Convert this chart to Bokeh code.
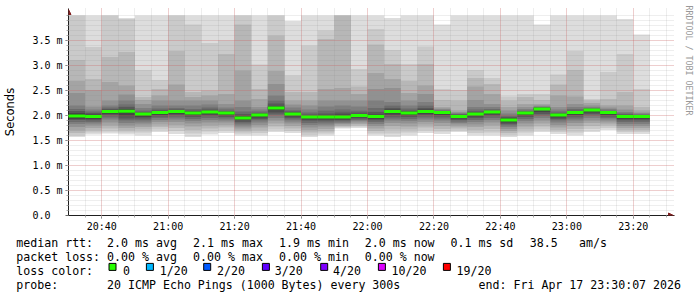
import pandas as pd
from bokeh.plotting import figure
from bokeh.layouts import column
from bokeh.models import (Range1d, FixedTicker, DatetimeTickFormatter, Label, Arrow, NormalHead,
                          LinearAxis)
from bokeh.embed import file_html
from bokeh.resources import INLINE

# ---------------------------------------------------------------- data
slot_start = pd.date_range("2026-04-17 20:30", periods=35, freq="5min")
step = pd.Timedelta(minutes=5)

median_rtt = [1.99, 1.98, 2.08, 2.085, 2.03, 2.06, 2.08, 2.05, 2.07, 2.05, 1.95, 2.01,
              2.15, 2.03, 1.97, 1.97, 1.97, 2.00, 1.98, 2.08, 2.05, 2.08, 2.06, 1.98,
              2.03, 2.07, 1.91, 2.05, 2.13, 2.01, 2.06, 2.11, 2.06, 1.98, 1.98]

# sorted ping times (ms), rank 1 (fastest) .. rank 20 (slowest), one value per 5-min slot
p01 = [1.57, 1.62, 1.64, 1.62, 1.60, 1.67, 1.63, 1.57, 1.62, 1.65, 1.60, 1.60, 1.67, 1.65, 1.57, 1.60, 1.74, 1.75,
       1.60, 1.57, 1.60, 1.65, 1.63, 1.67, 1.60, 1.60, 1.57, 1.60, 1.67, 1.63, 1.60, 1.67, 1.71, 1.63, 1.63]
p02 = [1.60, 1.66, 1.68, 1.66, 1.66, 1.72, 1.69, 1.64, 1.68, 1.70, 1.64, 1.65, 1.72, 1.69, 1.61, 1.64, 1.76, 1.78,
       1.64, 1.64, 1.66, 1.70, 1.68, 1.70, 1.65, 1.66, 1.61, 1.66, 1.72, 1.67, 1.66, 1.73, 1.75, 1.67, 1.67]
p03 = [1.65, 1.70, 1.74, 1.70, 1.72, 1.77, 1.75, 1.71, 1.74, 1.76, 1.68, 1.70, 1.78, 1.74, 1.66, 1.68, 1.78, 1.80,
       1.69, 1.72, 1.72, 1.76, 1.73, 1.74, 1.71, 1.73, 1.65, 1.72, 1.78, 1.71, 1.73, 1.79, 1.80, 1.71, 1.71]
p04 = [1.70, 1.75, 1.80, 1.75, 1.77, 1.82, 1.81, 1.78, 1.80, 1.81, 1.72, 1.76, 1.84, 1.79, 1.71, 1.73, 1.80, 1.83,
       1.74, 1.79, 1.78, 1.82, 1.79, 1.78, 1.77, 1.80, 1.69, 1.78, 1.84, 1.76, 1.79, 1.85, 1.84, 1.75, 1.75]
p05 = [1.77, 1.80, 1.86, 1.80, 1.82, 1.87, 1.87, 1.84, 1.86, 1.86, 1.76, 1.81, 1.90, 1.84, 1.76, 1.78, 1.83, 1.86,
       1.79, 1.85, 1.84, 1.87, 1.85, 1.82, 1.82, 1.86, 1.73, 1.84, 1.90, 1.81, 1.85, 1.90, 1.88, 1.79, 1.79]
p06 = [1.83, 1.84, 1.92, 1.85, 1.86, 1.91, 1.92, 1.89, 1.91, 1.90, 1.80, 1.86, 1.95, 1.88, 1.81, 1.82, 1.85, 1.89,
       1.83, 1.90, 1.89, 1.92, 1.90, 1.85, 1.87, 1.91, 1.77, 1.89, 1.95, 1.86, 1.90, 1.95, 1.92, 1.83, 1.83]
p07 = [1.87, 1.87, 1.96, 1.90, 1.90, 1.95, 1.96, 1.93, 1.95, 1.94, 1.84, 1.90, 2.00, 1.92, 1.85, 1.86, 1.88, 1.91,
       1.87, 1.94, 1.93, 1.96, 1.94, 1.88, 1.91, 1.95, 1.80, 1.93, 1.99, 1.90, 1.94, 1.99, 1.95, 1.87, 1.87]
p08 = [1.91, 1.90, 2.00, 1.94, 1.94, 1.98, 2.00, 1.97, 1.99, 1.97, 1.87, 1.93, 2.04, 1.95, 1.89, 1.89, 1.90, 1.94,
       1.90, 1.98, 1.97, 2.00, 1.98, 1.91, 1.95, 1.99, 1.83, 1.97, 2.03, 1.93, 1.98, 2.03, 1.98, 1.90, 1.90]
p09 = [1.93, 1.93, 2.03, 1.99, 1.97, 2.01, 2.03, 2.00, 2.02, 2.00, 1.90, 1.96, 2.08, 1.98, 1.92, 1.92, 1.92, 1.96,
       1.93, 2.02, 2.00, 2.03, 2.01, 1.94, 1.98, 2.02, 1.86, 2.00, 2.07, 1.96, 2.01, 2.06, 2.01, 1.93, 1.93]
p10 = [1.96, 1.96, 2.06, 2.05, 2.00, 2.04, 2.06, 2.03, 2.05, 2.03, 1.93, 1.99, 2.12, 2.01, 1.95, 1.95, 1.95, 1.98,
       1.96, 2.06, 2.03, 2.06, 2.04, 1.96, 2.01, 2.05, 1.89, 2.03, 2.11, 1.99, 2.04, 2.09, 2.04, 1.96, 1.96]
p11 = [2.02, 2.00, 2.09, 2.10, 2.04, 2.07, 2.09, 2.06, 2.08, 2.06, 1.97, 2.02, 2.17, 2.04, 1.98, 1.99, 1.99, 2.01,
       2.00, 2.10, 2.06, 2.10, 2.07, 2.00, 2.04, 2.08, 1.93, 2.06, 2.14, 2.02, 2.07, 2.12, 2.07, 1.99, 1.99]
p12 = [2.05, 2.02, 2.11, 2.13, 2.05, 2.09, 2.10, 2.08, 2.10, 2.07, 2.00, 2.03, 2.20, 2.06, 2.00, 2.01, 2.02, 2.03,
       2.02, 2.12, 2.08, 2.12, 2.08, 2.01, 2.06, 2.09, 1.95, 2.07, 2.15, 2.03, 2.08, 2.12, 2.08, 2.00, 2.00]
p13 = [2.09, 2.05, 2.13, 2.17, 2.07, 2.11, 2.12, 2.10, 2.12, 2.09, 2.03, 2.05, 2.24, 2.08, 2.02, 2.04, 2.06, 2.06,
       2.07, 2.15, 2.10, 2.15, 2.09, 2.02, 2.08, 2.10, 1.97, 2.08, 2.16, 2.05, 2.10, 2.13, 2.09, 2.02, 2.01]
p14 = [2.13, 2.08, 2.16, 2.22, 2.10, 2.14, 2.15, 2.13, 2.16, 2.12, 2.08, 2.08, 2.30, 2.11, 2.06, 2.10, 2.12, 2.10,
       2.15, 2.20, 2.14, 2.20, 2.10, 2.03, 2.12, 2.13, 2.00, 2.10, 2.17, 2.08, 2.13, 2.15, 2.10, 2.04, 2.02]
p15 = [2.20, 2.12, 2.20, 2.30, 2.15, 2.20, 2.20, 2.20, 2.22, 2.16, 2.17, 2.12, 2.40, 2.16, 2.12, 2.18, 2.20, 2.18,
       2.30, 2.27, 2.20, 2.27, 2.12, 2.05, 2.17, 2.17, 2.04, 2.13, 2.18, 2.12, 2.17, 2.17, 2.13, 2.07, 2.04]
p16 = [2.45, 2.18, 2.30, 2.42, 2.23, 2.30, 2.30, 2.30, 2.30, 2.23, 2.30, 2.17, 2.63, 2.22, 2.20, 2.30, 2.30, 2.30,
       2.53, 2.55, 2.30, 2.43, 2.14, 2.07, 2.31, 2.23, 2.10, 2.17, 2.20, 2.17, 2.23, 2.20, 2.16, 2.12, 2.06]
p17 = [2.69, 2.51, 2.67, 2.60, 2.31, 2.40, 2.62, 2.37, 2.40, 2.43, 2.90, 2.33, 2.89, 2.30, 2.30, 2.53, 2.55, 2.43,
       2.85, 2.73, 2.45, 2.60, 2.17, 2.10, 2.58, 2.43, 2.17, 2.23, 2.23, 2.40, 2.38, 2.25, 2.20, 2.20, 2.10]
p18 = [3.11, 2.73, 3.17, 3.27, 2.37, 2.53, 3.29, 2.47, 2.50, 3.23, 3.82, 2.53, 3.60, 2.47, 2.47, 3.53, 4.20, 2.58,
       3.42, 3.03, 2.69, 3.03, 2.31, 2.30, 2.75, 2.63, 2.30, 2.37, 2.31, 2.62, 2.91, 2.30, 2.33, 2.47, 2.17]
p19 = [4.20, 3.37, 4.10, 3.93, 2.91, 2.71, 4.20, 3.82, 3.45, 3.50, 4.20, 3.02, 4.20, 2.80, 3.40, 3.70, 4.50, 2.93,
       3.73, 3.31, 3.03, 3.38, 2.53, 2.51, 2.91, 2.75, 2.38, 2.43, 2.43, 2.82, 3.29, 2.33, 2.87, 3.23, 2.53]
p20 = [4.60, 4.50, 4.60, 3.95, 4.50, 4.50, 4.60, 4.50, 4.50, 4.50, 4.60, 4.50, 4.60, 3.89, 4.50, 4.50, 4.80, 4.50,
       4.50, 3.95, 4.50, 4.50, 3.82, 4.50, 4.50, 4.50, 4.50, 4.50, 3.82, 4.50, 4.50, 4.50, 4.50, 3.93, 3.62]
pings = [p01, p02, p03, p04, p05, p06, p07, p08, p09, p10,
         p11, p12, p13, p14, p15, p16, p17, p18, p19, p20]

y_ticks = [0.0, 0.5, 1.0, 1.5, 2.0, 2.5, 3.0, 3.5]
y_tick_labels = ["0.0\u00a0\u00a0", "0.5 m", "1.0 m", "1.5 m", "2.0 m", "2.5 m", "3.0 m", "3.5 m"]
y_minor_step = 0.1
x_major = pd.date_range("2026-04-17 20:40", "2026-04-17 23:20", freq="20min")
x_minor = pd.date_range("2026-04-17 20:35", "2026-04-17 23:30", freq="5min")

rtt_items = ["2.0 ms avg", "2.1 ms max", "1.9 ms min", "2.0 ms now", "0.1 ms sd", "38.5", "am/s"]
loss_items = ["0.00 % avg", "0.00 % max", "0.00 % min", "0.00 % now"]
loss_labels = ["0", "1/20", "2/20", "3/20", "4/20", "10/20", "19/20"]
loss_colors = ["#26ff00", "#00b8ff", "#0059ff", "#5e00ff", "#7e00ff", "#dd00ff", "#ff0000"]
probe_text = "20 ICMP Echo Pings (1000 Bytes) every 300s"
end_text = "end: Fri Apr 17 23:30:07 2026"
watermark = "RRDTOOL / TOBI OETIKER"

# ---------------------------------------------------------------- style / layout
W, H_MAIN, H_LEG = 697, 234, 63
FR_LEFT, FR_RIGHT, FR_TOP, FR_BOTTOM = 66, 674, 8, 215
PX_PER_MIN = 600 / 180.0
PX_PER_MS = 50.0
Y_CLIP = 4.0
MONO = "DejaVu Sans Mono"
smoke_colors = ["#dddddd", "#cacaca", "#b7b7b7", "#a4a4a4", "#919191",
                "#7e7e7e", "#6b6b6b", "#585858", "#454545", "#323232"]
ARROW = "#801f1f"
AXIS = "#1f1f1f"


def ms(ts):
    return ts.value / 1e6


t0 = slot_start[0]
x_lo = ms(t0)
x_hi = ms(t0 + pd.Timedelta(minutes=(FR_RIGHT - FR_LEFT) / PX_PER_MIN))
y_hi = (FR_BOTTOM - FR_TOP) / PX_PER_MS

p = figure(width=W, height=H_MAIN, x_axis_type="datetime",
           x_range=Range1d(x_lo, x_hi), y_range=Range1d(0, y_hi),
           toolbar_location=None, output_backend="svg",
           min_border_left=FR_LEFT, min_border_right=W - FR_RIGHT,
           min_border_top=FR_TOP, min_border_bottom=H_MAIN - FR_BOTTOM)
p.outline_line_color = None
p.background_fill_color = "white"
p.border_fill_color = "white"
p.frame_align = False

# smoke bands
edges = [ms(t) for t in slot_start] + [ms(slot_start[-1] + step)]
for k in range(10):
    lo = [min(v, Y_CLIP) for v in pings[k]]
    hi = [min(v, Y_CLIP) for v in pings[19 - k]]
    p.varea_step(x=edges, y1=lo + [lo[-1]], y2=hi + [hi[-1]], step_mode="after",
                 fill_color=smoke_colors[k])

# median line
med = p.segment(x0=[ms(t) for t in slot_start], x1=[ms(t + step) for t in slot_start],
                y0=median_rtt, y1=median_rtt, line_color=loss_colors[0], line_width=3,
                line_cap="butt")
med.level = "annotation"

# axes
p.xaxis.ticker = FixedTicker(ticks=[ms(t) for t in x_major], minor_ticks=[ms(t) for t in x_minor])
p.xaxis.formatter = DatetimeTickFormatter(seconds="%H:%M", minsec="%H:%M", minutes="%H:%M",
                                          hourmin="%H:%M", hours="%H:%M")
y_minor = [round(i * y_minor_step, 2) for i in range(1, 41)]
p.yaxis.ticker = FixedTicker(ticks=y_ticks, minor_ticks=y_minor)
p.yaxis.major_label_overrides = dict(zip(y_ticks, y_tick_labels))

for ax in (p.xaxis[0], p.yaxis[0]):
    ax.axis_line_color = AXIS
    ax.major_tick_line_color = "#666666"
    ax.minor_tick_line_color = "#aaaaaa"
    ax.major_tick_in = 0
    ax.minor_tick_in = 0
    ax.major_tick_out = 3
    ax.minor_tick_out = 2
    ax.major_label_text_font = MONO
    ax.major_label_text_font_size = "10px"
    ax.major_label_text_color = "black"
p.xaxis.major_label_standoff = 2
p.yaxis.major_label_standoff = 3
p.yaxis.axis_label = "Seconds"
p.yaxis.axis_label_text_font = "DejaVu Sans"
p.yaxis.axis_label_text_font_style = "normal"
p.yaxis.axis_label_text_font_size = "11.5px"
p.yaxis.axis_label_text_color = "black"
p.yaxis.axis_label_standoff = 12

# grids (drawn above the smoke, as rrdtool does)
for g in (p.xgrid[0], p.ygrid[0]):
    g.level = "guide"
    g.grid_line_color = "#f04f4f"
    g.grid_line_alpha = 0.4
    g.grid_line_dash = "1 1"
    g.minor_grid_line_color = "#8c8c8c"
    g.minor_grid_line_alpha = 0.3
    g.minor_grid_line_dash = "1 1"

# axis arrows
head_kw = dict(size=5, fill_color=ARROW, line_color=ARROW)
p.add_layout(Arrow(end=NormalHead(**head_kw), x_start=x_lo, y_start=Y_CLIP, x_end=x_lo,
                   y_end=(FR_BOTTOM - 9) / PX_PER_MS, line_alpha=0))
p.add_layout(Arrow(end=NormalHead(**head_kw), x_start=ms(t0 + pd.Timedelta(minutes=180)), y_start=0,
                   x_end=ms(t0 + pd.Timedelta(minutes=(673 - FR_LEFT) / PX_PER_MIN)), y_end=0,
                   line_alpha=0))

# watermark, carried by a bare right-hand axis (one tick label, read top to bottom)
wm_y = (FR_BOTTOM - 60) / PX_PER_MS
wm_axis = LinearAxis(ticker=FixedTicker(ticks=[wm_y], minor_ticks=[]),
                     major_label_overrides={wm_y: watermark},
                     major_label_orientation="vertical", axis_line_color=None,
                     major_tick_line_color=None, minor_tick_line_color=None,
                     major_tick_out=0, minor_tick_out=0, major_label_standoff=9,
                     major_label_text_font=MONO, major_label_text_font_size="8.3px",
                     major_label_text_color="#999999")
p.add_layout(wm_axis, "right")

# ---------------------------------------------------------------- legend strip
# own full-width frame; data units are canvas pixels (x from left, y from strip top)
leg = figure(width=W, height=H_LEG, x_range=Range1d(0, W), y_range=Range1d(H_LEG, 0),
             toolbar_location=None, output_backend="svg", x_axis_location=None,
             y_axis_location=None, min_border=0)
leg.frame_align = False
leg.outline_line_color = None
leg.grid.visible = False
leg.background_fill_color = "white"
leg.border_fill_color = "white"

base = [8, 22, 36, 50]


def put(x, y, text, align="left"):
    leg.add_layout(Label(x=x, y=y, text=text, text_font=MONO, text_font_size="11.6px",
                         text_color="black", text_baseline="alphabetic", text_align=align))


row1_x = [15.8, 106.6, 192.6, 278.6, 364.3, 450.0, 529.3, 578.6]
for x, t in zip(row1_x, ["median rtt:"] + rtt_items):
    put(x, base[0], t)
row2_x = [15.8, 106.6, 192.6, 278.6, 364.3]
for x, t in zip(row2_x, ["packet loss:"] + loss_items):
    put(x, base[1], t)
box_x = [108.3, 145.7, 203.0, 261.7, 320.0, 377.7, 442.7]
lab_x = [122.6, 159.3, 216.6, 274.3, 332.6, 391.0, 456.0]
put(15.8, base[2], "loss color:")
leg.rect(x=[b + 3.7 for b in box_x], y=[base[2] - 3.6] * 7, width=7, height=7,
         fill_color=loss_colors, line_color="black", line_width=1)
for x, t in zip(lab_x, loss_labels):
    put(x, base[2], t)
put(15.8, base[3], "probe:")
put(106.6, base[3], probe_text)
put(680.5, base[3], end_text, align="right")

layout = column(p, leg, spacing=0)
open("out.html", "w").write(file_html(layout, INLINE))
